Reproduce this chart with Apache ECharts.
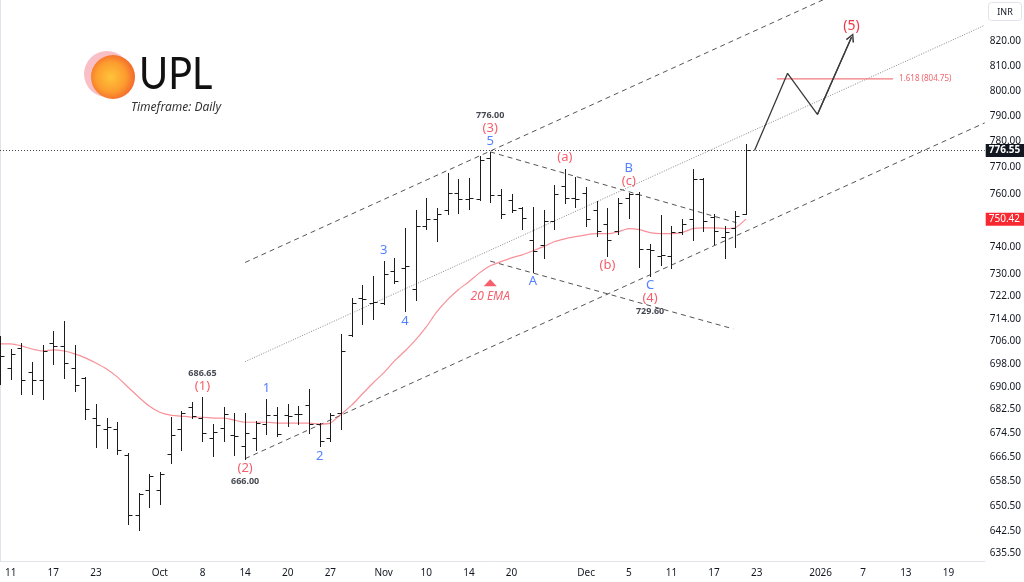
<!DOCTYPE html>
<html>
<head>
<meta charset="utf-8">
<title>UPL - Timeframe: Daily</title>
<script src="https://cdn.jsdelivr.net/npm/echarts@6/dist/echarts.min.js"></script>
<style>
  html, body { margin: 0; padding: 0; background: #fff; }
  #chart { width: 1024px; height: 582px; }
</style>
</head>
<body>
<div id="chart"></div>
<script>
// trading days (NSE), plus empty future slots for the projection
const dates = [
  '2025-09-10', '2025-09-11', '2025-09-12', '2025-09-15', '2025-09-16', '2025-09-17', '2025-09-18', '2025-09-19',
  '2025-09-22', '2025-09-23', '2025-09-24', '2025-09-25', '2025-09-26', '2025-09-29', '2025-09-30',
  '2025-10-01', '2025-10-03', '2025-10-06', '2025-10-07', '2025-10-08', '2025-10-09', '2025-10-10', '2025-10-13',
  '2025-10-14', '2025-10-15', '2025-10-16', '2025-10-17', '2025-10-20', '2025-10-21', '2025-10-23', '2025-10-24',
  '2025-10-27', '2025-10-28', '2025-10-29', '2025-10-30', '2025-10-31',
  '2025-11-03', '2025-11-04', '2025-11-06', '2025-11-07', '2025-11-10', '2025-11-11', '2025-11-12', '2025-11-13',
  '2025-11-14', '2025-11-17', '2025-11-18', '2025-11-19', '2025-11-20', '2025-11-21', '2025-11-24', '2025-11-25',
  '2025-11-26', '2025-11-27', '2025-11-28',
  '2025-12-01', '2025-12-02', '2025-12-03', '2025-12-04', '2025-12-05', '2025-12-08', '2025-12-09', '2025-12-10',
  '2025-12-11', '2025-12-12', '2025-12-15', '2025-12-16', '2025-12-17', '2025-12-18', '2025-12-19', '2025-12-22',
  '2025-12-23', '2025-12-24', '2025-12-26', '2025-12-29', '2025-12-30', '2025-12-31', '2026-01-01', '2026-01-02',
  '2026-01-05', '2026-01-06', '2026-01-07', '2026-01-08', '2026-01-09', '2026-01-12', '2026-01-13', '2026-01-14',
  '2026-01-15', '2026-01-16', '2026-01-19', '2026-01-20', '2026-01-21', '2026-01-22',
]

const opens = [
  699.2, 696.8, 703.8, 695.4, 692.6, 705.6, 704.5, 696.8, 693.3, 679.6, 675.9, 675.9, 667.1, 647.7, 655.6,
  655.6, 667.5, 675.9, 683.4, 679.6, 672.8, 676.2, 673.8, 670.1, 672.8, 677.6, 680.6, 680.6, 680.9, 684.0,
  677.6, 672.8, 681.3, 708.4, 721.6, 719.8, 719.8, 731.4, 732.5, 724.8, 748.0, 750.6, 754.0, 760.4, 758.1,
  758.1, 773.8, 759.6, 757.7, 754.7, 742.8, 740.9, 749.8, 763.1, 758.5, 760.4, 754.0, 748.7, 746.1, 758.5,
  760.0, 739.4, 736.9, 736.9, 745.7, 750.6, 765.7, 751.3, 743.9, 747.2, 752.5,
]
const highs = [
  708.0, 703.5, 705.6, 698.9, 704.9, 709.8, 713.4, 704.9, 693.7, 684.4, 679.6, 678.2, 667.8, 654.6, 660.8,
  661.5, 679.9, 682.0, 685.1, 686.65, 677.6, 683.4, 681.3, 681.3, 678.6, 686.1, 683.4, 684.4, 683.7, 689.5,
  677.9, 681.3, 708.7, 721.6, 726.3, 729.5, 735.0, 736.1, 747.2, 754.0, 758.5, 754.7, 767.7, 765.4, 766.1,
  774.6, 776.0, 761.9, 760.0, 755.1, 755.1, 754.0, 763.4, 769.6, 766.5, 762.7, 757.4, 754.7, 758.5, 760.4,
  760.8, 741.3, 752.1, 748.0, 750.6, 769.6, 766.0, 752.5, 748.0, 753.6, 778.9,
]
const lows = [
  691.3, 693.0, 687.8, 687.8, 686.1, 698.2, 693.3, 688.8, 679.3, 669.8, 669.5, 667.5, 644.8, 642.9, 650.3,
  651.0, 664.5, 668.8, 679.6, 671.8, 666.8, 671.8, 667.1, 666.0, 668.8, 674.2, 673.5, 676.9, 677.6, 674.5,
  670.1, 671.8, 675.9, 708.0, 712.3, 714.1, 719.5, 727.0, 716.8, 720.9, 746.9, 742.4, 752.5, 752.8, 754.3,
  757.8, 757.0, 750.9, 753.0, 746.9, 731.0, 736.1, 746.9, 756.6, 755.1, 748.0, 744.3, 736.9, 745.0, 750.9,
  732.8, 729.6, 733.6, 732.5, 745.0, 742.8, 746.1, 741.3, 736.1, 740.2, 752.2,
]
const closes = [
  701.0, 701.7, 692.6, 692.6, 702.7, 704.5, 698.5, 690.9, 682.7, 677.2, 676.5, 668.8, 647.7, 654.3, 660.2,
  661.1, 673.9, 681.3, 680.3, 674.5, 674.8, 680.9, 673.5, 674.5, 677.9, 680.6, 674.2, 680.3, 681.1, 677.6,
  671.8, 680.6, 702.7, 719.8, 721.0, 720.2, 730.3, 727.7, 733.2, 748.0, 750.6, 752.5, 760.4, 758.1, 758.4,
  772.7, 759.6, 752.5, 754.0, 750.9, 738.7, 749.8, 760.0, 758.5, 758.1, 750.6, 746.1, 742.8, 756.6, 760.0,
  739.4, 739.0, 737.2, 745.7, 748.7, 765.7, 749.8, 746.1, 745.7, 751.7, 776.55,
]
// 20 EMA
const ema20 = [
  705.2, 705.2, 704.5, 703.4, 702.7, 703.1, 702.7, 701.7, 700.3, 698.5, 696.4, 693.7, 690.2, 686.8, 683.7,
  681.6, 680.6, 680.3, 679.9, 679.9, 679.6, 679.6, 678.9, 678.2, 678.2, 678.2, 677.9, 677.9, 677.9, 677.9,
  677.6, 677.9, 680.9, 684.0, 687.8, 691.6, 695.1, 699.2, 702.7, 706.6, 711.2, 716.6, 720.9, 724.5, 727.4,
  730.6, 733.2, 734.7, 736.1, 737.2, 738.7, 740.2, 742.0, 743.1, 743.9, 744.6, 745.0, 745.0, 745.7, 746.9,
  746.5, 745.4, 745.0, 745.0, 745.4, 746.9, 747.2, 747.2, 746.9, 747.2, 750.42,
]

const xTicks = [
  '2025-09-11', '2025-09-17', '2025-09-23', '2025-10-01', '2025-10-08', '2025-10-14', '2025-10-20', '2025-10-27',
  '2025-11-03', '2025-11-10', '2025-11-14', '2025-11-20', '2025-12-01', '2025-12-05', '2025-12-11', '2025-12-17',
  '2025-12-23', '2026-01-01', '2026-01-07', '2026-01-13', '2026-01-19',
]
const xTickText = [
  '11', '17', '23', 'Oct', '8', '14', '20', '27', 'Nov', '10', '14', '20', 'Dec', '5', '11', '17', '23', '2026',
  '7', '13', '19',
]
const yTicks = [
  820, 810, 800, 790, 780, 770, 760, 750, 740, 730, 722, 714, 706, 698, 690, 682.5, 674.5, 666.5, 658.5, 650.5,
  642.5, 635.5,
]

// wave counts, pinned to a bar's high or low
const waveMarks = [
  ['2025-10-08', 'high', '{n|686.65}\n{r|(1)}'],
  ['2025-10-14', 'low', '{r|(2)}\n{n|666.00}'],
  ['2025-10-16', 'high', '{b|1}'],
  ['2025-10-24', 'low', '{b|2}'],
  ['2025-11-03', 'high', '{b|3}'],
  ['2025-11-06', 'low', '{b|4}'],
  ['2025-11-18', 'high', '{n|776.00}\n{r|(3)}\n{b|5}'],
  ['2025-11-24', 'low', '{b|A}'],
  ['2025-11-27', 'high', '{r|(a)}'],
  ['2025-12-03', 'low', '{r|(b)}'],
  ['2025-12-05', 'high', '{b|B}\n{r|(c)}'],
  ['2025-12-09', 'low', '{b|C}\n{r|(4)}\n{n|729.60}'],
]

// trendlines: [x index, price] pairs
const channelUpper = [[23, 734.4], [92.4, 868.3]]
const channelMid = [[23, 699.0], [92.4, 826.5]]
const channelLower = [[23, 666.0], [92.4, 787.3]]
const triangleUpper = [[46, 776.0], [69.1, 749.1]]
const triangleLower = [[46, 734.9], [68.8, 710.5]]
const projection = [[70.8, 776.55], [73.9, 807.0], [76.7, 790.6], [79.9, 821.6]]
const fibLevel = 804.75
const fibSpan = [72.9, 83.8]

const RED = '#f23645'
const BLUE = '#2962ff'
const INK = '#131722'
const FONT = '"Noto Sans", Roboto, sans-serif'

const bars = opens.map((o, i) => [i, o, highs[i], lows[i], closes[i]])
const lastClose = closes[closes.length - 1]
const lastEma = ema20[ema20.length - 1]

function renderOhlc(params, api) {
  const i = api.value(0)
  const pO = api.coord([i, api.value(1)])
  const pH = api.coord([i, api.value(2)])
  const pL = api.coord([i, api.value(3)])
  const pC = api.coord([i, api.value(4)])
  const x = Math.round(pO[0]) + 0.5
  const yo = Math.round(pO[1]) + 0.5
  const yc = Math.round(pC[1]) + 0.5
  const style = { stroke: '#1c1c1c', lineWidth: 1 }
  return {
    type: 'group',
    children: [
      { type: 'line', shape: { x1: x, y1: Math.round(pH[1]), x2: x, y2: Math.round(pL[1]) + 1 }, style },
      { type: 'line', shape: { x1: x - 4, y1: yo, x2: x, y2: yo }, style },
      { type: 'line', shape: { x1: x, y1: yc, x2: x + 4, y2: yc }, style },
    ],
  }
}

function trend(data, dash, color) {
  return {
    type: 'line',
    data,
    symbol: 'none',
    silent: true,
    z: 1,
    lineStyle: { color, width: 1, type: dash },
  }
}

const chevron = 'path://M0,10 L5,0 L10,10 L8.4,10.8 L5,3.4 L1.6,10.8 Z'

const chart = echarts.init(document.getElementById('chart'))

chart.setOption({
  animation: false,
  backgroundColor: '#ffffff',
  textStyle: { fontFamily: FONT },
  grid: { left: 0, right: 38, top: 0, bottom: 21 },
  xAxis: {
    type: 'value',
    min: 0,
    max: 92.4,
    axisLine: { show: true, lineStyle: { color: '#e0e3eb' } },
    axisTick: { show: false },
    splitLine: { show: false },
    axisLabel: {
      customValues: xTicks.map(d => dates.indexOf(d)),
      formatter: v => xTickText[xTicks.indexOf(dates[Math.round(v)])],
      color: INK,
      fontSize: 10,
      margin: 7,
    },
  },
  yAxis: {
    type: 'log',
    logBase: 10,
    position: 'right',
    min: 632.9,
    max: 837.0,
    axisLine: { show: true, lineStyle: { color: '#e0e3eb' } },
    axisTick: { show: false },
    splitLine: { show: false },
    axisLabel: {
      customValues: yTicks,
      formatter: v => Number(v).toFixed(2),
      color: INK,
      fontSize: 10,
      margin: 5,
      align: 'left',
    },
  },
  graphic: [
    {
      type: 'circle',
      shape: { cx: 107, cy: 74, r: 23 },
      style: { fill: 'rgba(240, 96, 112, 0.4)' },
    },
    {
      type: 'circle',
      shape: { cx: 113, cy: 77, r: 22 },
      style: {
        fill: new echarts.graphic.RadialGradient(0.45, 0.5, 0.62, [
          { offset: 0, color: '#ffc43a' },
          { offset: 0.55, color: '#fc9c2e' },
          { offset: 1, color: '#f0572c' },
        ]),
      },
    },
    {
      type: 'text',
      x: 139,
      y: 75,
      scaleX: 0.9,
      style: { text: 'UPL', font: '44px Lato, "Noto Sans", sans-serif', fill: '#111', verticalAlign: 'middle' },
    },
    {
      type: 'text',
      x: 131,
      y: 108,
      style: { text: 'Timeframe: Daily', font: 'italic 12px "Noto Sans", sans-serif', fill: '#333', verticalAlign: 'middle' },
    },
    {
      type: 'rect',
      shape: { x: 988.5, y: 2.5, width: 33, height: 18, r: 3 },
      style: { fill: '#fff', stroke: '#e0e3eb' },
    },
    {
      type: 'text',
      x: 1005,
      y: 12,
      style: { text: 'INR', font: '9px "Noto Sans", sans-serif', fill: INK, align: 'center', verticalAlign: 'middle' },
    },
  ],
  series: [
    trend(channelUpper, [5, 4], '#555'),
    trend(channelMid, [1, 1.5], '#8a8a8a'),
    trend(channelLower, [5, 4], '#555'),
    trend(triangleUpper, [5, 4], '#555'),
    trend(triangleLower, [5, 4], '#555'),
    {
      type: 'line',
      name: '20 EMA',
      data: ema20.map((v, i) => [i, v]),
      symbol: 'none',
      smooth: 0.2,
      silent: true,
      z: 2,
      lineStyle: { color: 'rgba(242, 54, 69, 0.55)', width: 1.2 },
      markLine: {
        silent: true,
        symbol: 'none',
        lineStyle: { color: 'transparent' },
        data: [{ yAxis: lastEma }],
        label: {
          position: 'end',
          distance: 1,
          formatter: lastEma.toFixed(2),
          color: '#fff',
          backgroundColor: '#f7282f',
          padding: [2, 4, 1, 3],
          fontSize: 10,
        },
      },
    },
    {
      type: 'custom',
      name: 'UPL',
      data: bars,
      encode: { x: 0, y: [1, 2, 3, 4] },
      renderItem: renderOhlc,
      clip: true,
      z: 3,
      markLine: {
        silent: true,
        symbol: 'none',
        data: [{ yAxis: lastClose }],
        lineStyle: { color: '#444', width: 1, type: [1, 2] },
        label: {
          position: 'end',
          distance: 1,
          formatter: lastClose.toFixed(2),
          color: '#fff',
          backgroundColor: '#131722',
          padding: [2, 4, 1, 3],
          fontSize: 10,
          fontWeight: 'bold',
        },
      },
    },
    {
      type: 'line',
      name: 'projection',
      data: projection,
      symbol: 'none',
      silent: true,
      z: 3,
      lineStyle: { color: '#3a3a3a', width: 1.3 },
      markLine: {
        silent: true,
        symbol: ['none', chevron],
        symbolSize: 9,
        lineStyle: { color: '#3a3a3a', width: 1.3, type: 'solid' },
        label: { show: false },
        data: [[{ coord: projection[2] }, { coord: projection[3] }]],
      },
      markPoint: {
        silent: true,
        symbol: 'circle',
        symbolSize: 1,
        itemStyle: { color: 'rgba(0,0,0,0)' },
        data: [{ coord: projection[3] }],
        label: { show: true, position: 'top', distance: 4, formatter: '(5)', color: RED, fontSize: 14 },
      },
    },
    {
      type: 'line',
      name: 'fib',
      data: fibSpan.map(x => [x, fibLevel]),
      symbol: 'none',
      silent: true,
      z: 2,
      lineStyle: { color: '#f47a80', width: 1.2 },
      endLabel: {
        show: true,
        formatter: '1.618 (' + fibLevel.toFixed(2) + ')',
        color: '#f0646c',
        fontSize: 8,
        distance: 6,
      },
    },
    {
      type: 'scatter',
      name: 'waves',
      silent: true,
      z: 4,
      symbol: 'circle',
      symbolSize: 1,
      itemStyle: { color: 'rgba(0,0,0,0)' },
      data: waveMarks.map(([d, side, text]) => {
        const i = dates.indexOf(d)
        return {
          value: [i, side === 'high' ? highs[i] : lows[i]],
          label: {
            show: true,
            position: side === 'high' ? 'top' : 'bottom',
            distance: side === 'high' ? 4 : 3,
            formatter: text,
            align: 'center',
            rich: {
              n: { color: INK, fontSize: 9, fontWeight: 'bold', lineHeight: 12, align: 'center' },
              r: { color: RED, fontSize: 13, lineHeight: 13, align: 'center' },
              b: { color: BLUE, fontSize: 13, lineHeight: 13, align: 'center' },
            },
          },
        }
      }),
    },
    {
      type: 'scatter',
      name: 'ema tag',
      silent: true,
      z: 4,
      data: [{
        value: [46, ema20[46]],
        symbol: 'triangle',
        symbolSize: [13, 7],
        symbolOffset: [0, 17],
        itemStyle: { color: RED },
        label: {
          show: true,
          position: 'bottom',
          distance: 4,
          formatter: '20 EMA',
          color: RED,
          fontSize: 12,
          fontStyle: 'italic',
        },
      }],
    },
  ],
})
</script>
</body>
</html>
